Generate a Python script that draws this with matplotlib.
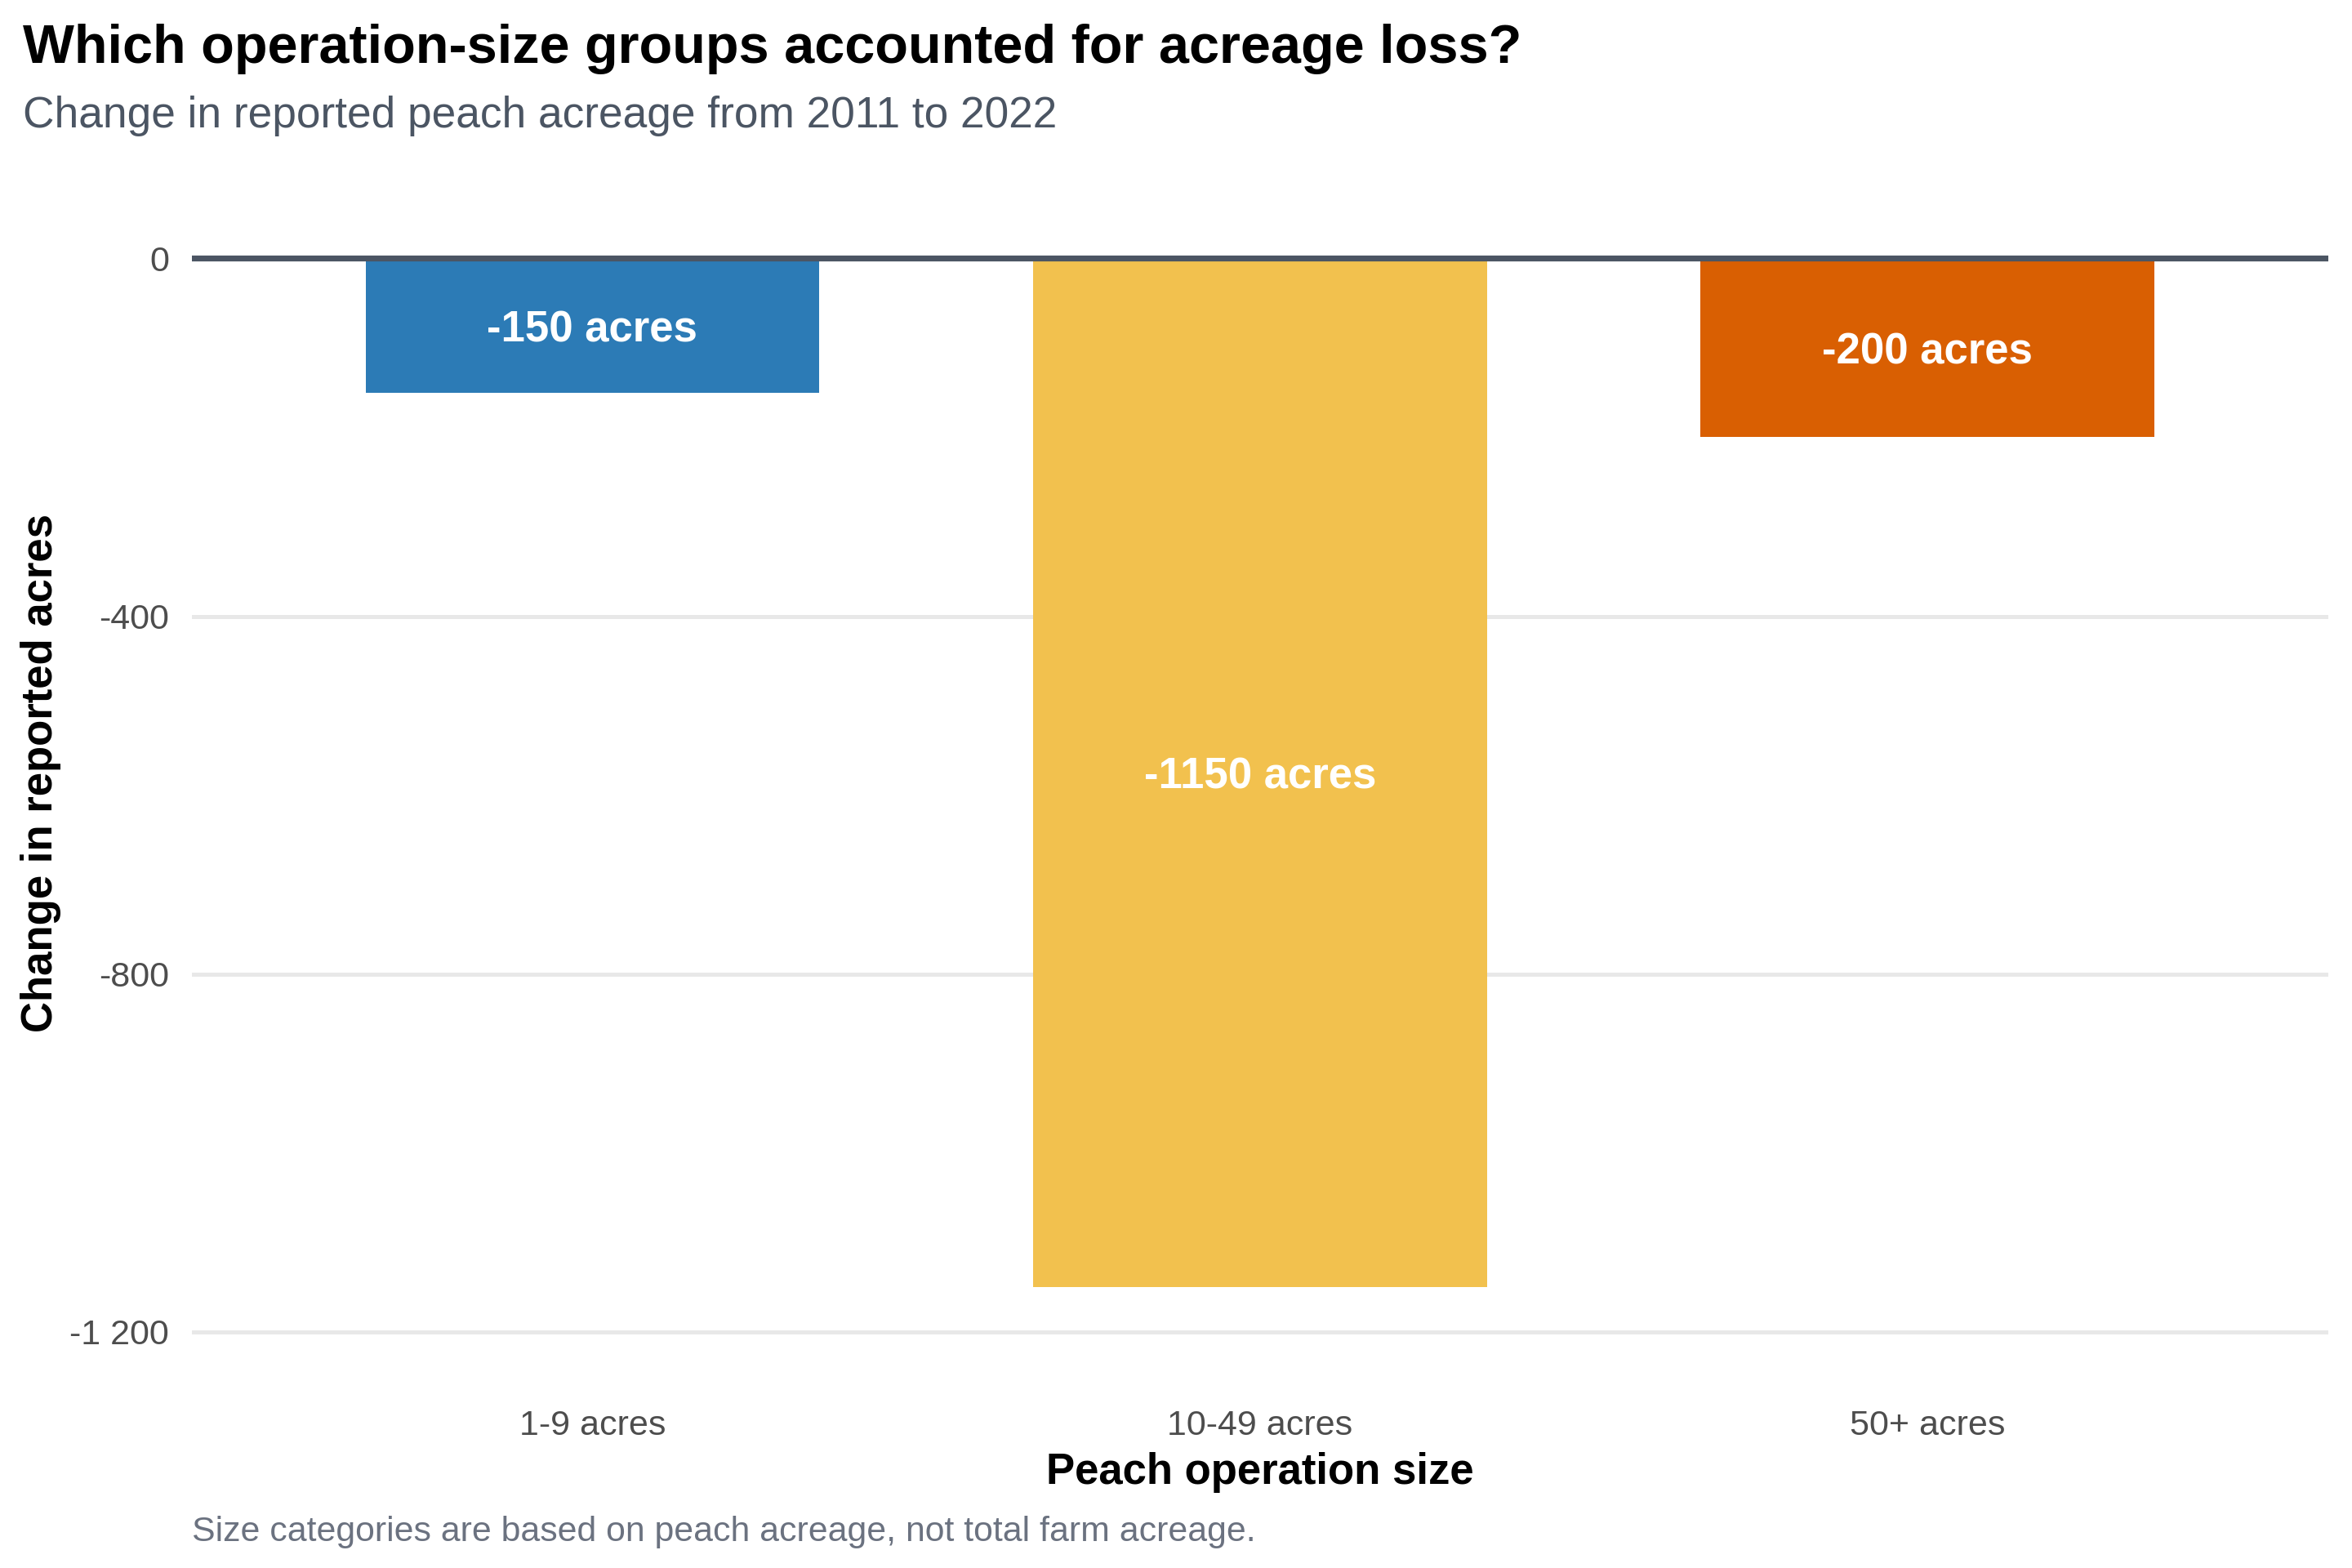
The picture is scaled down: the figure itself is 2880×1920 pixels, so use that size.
import matplotlib
matplotlib.use("Agg")
import matplotlib.pyplot as plt

categories = ["1-9 acres", "10-49 acres", "50+ acres"]
changes = [-150, -1150, -200]
bar_labels = ["-150 acres", "-1150 acres", "-200 acres"]
colors = ["#2c7bb6", "#f2c14e", "#d95f02"]
yticks = [0, -400, -800, -1200]
ytick_labels = ["0", "-400", "-800", "-1 200"]

plt.rcParams['font.family'] = ['Liberation Sans', 'DejaVu Sans']

fig = plt.figure(figsize=(14.4, 9.6), dpi=200)
ax = fig.add_axes([0.0816, 0.1464, 0.9898 - 0.0816, 0.868 - 0.1464])

x = list(range(1, len(categories) + 1))
ax.bar(x, changes, width=0.68, color=colors, zorder=2)
for xi, v, lab in zip(x, changes, bar_labels):
    ax.text(xi, v / 2, lab, ha='center', va='center_baseline', color='white',
            fontsize=19, fontweight='bold', zorder=4)

ax.set_xlim(0.4, 3.6)
ax.set_ylim(-1207.5, 57.5)
ax.set_yticks(yticks)
ax.set_yticklabels(ytick_labels)
ax.set_xticks(x)
ax.set_xticklabels(categories)
ax.yaxis.grid(True, color='#e8e8e8', linewidth=1.8, zorder=0)
ax.set_axisbelow(True)
ax.axhline(0, color='#4b5563', linewidth=2.6, zorder=3)
for s in ax.spines.values():
    s.set_visible(False)
ax.tick_params(axis='y', length=0, pad=10, labelsize=15.5, labelcolor='#4d4d4d')
ax.tick_params(axis='x', length=0, pad=31.5, labelsize=15.5, labelcolor='#4d4d4d')

ax.set_xlabel("Peach operation size", fontsize=19, fontweight='bold', color='black', labelpad=4)
fig.text(0.0172, (0.1464 + 0.868) / 2, "Change in reported acres", rotation=90,
         ha='center', va='center', fontsize=19, fontweight='bold', color='black')

fig.text(0.0096, 0.9598, "Which operation-size groups accounted for acreage loss?",
         ha='left', va='baseline', fontsize=24, fontweight='bold', color='black')
fig.text(0.0096, 0.9187, "Change in reported peach acreage from 2011 to 2022",
         ha='left', va='baseline', fontsize=19.2, color='#4b5563')
fig.text(0.0816, 0.017, "Size categories are based on peach acreage, not total farm acreage.",
         ha='left', va='baseline', fontsize=15.4, color='#6b7280')

fig.savefig("out.png", dpi=200, facecolor='white')
